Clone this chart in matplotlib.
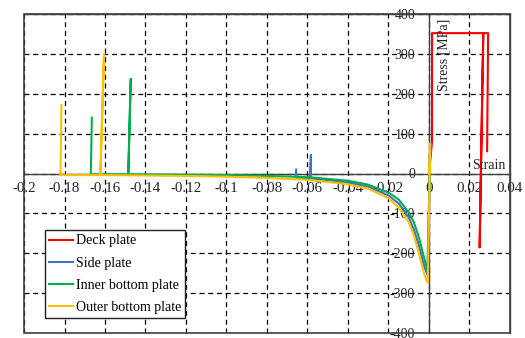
import matplotlib
matplotlib.use("Agg")
import matplotlib.pyplot as plt
from matplotlib.patches import Rectangle

plt.rcParams['font.family'] = ['Liberation Serif', 'DejaVu Serif']
plt.rcParams['axes.unicode_minus'] = False

# Deck plate
deck_strain = [0.0, 0.0015, 0.0015, 0.0268, 0.0250, 0.0268, 0.0292, 0.0287]
deck_stress = [0, 80, 352, 352, -185, 352, 352, 56]

# Side plate
side_strain = [0.0, 0.0006, -0.0007, -0.002, -0.003, -0.005, -0.0075, -0.01, -0.015, -0.02,
               -0.03, -0.04, -0.0586, -0.0583, -0.0586, -0.0658, -0.0656]
side_stress = [0, 60, -255, -238, -220, -180, -140, -110, -75, -55,
               -33, -22, -12, 46, -12, -10, 10]

# Inner bottom plate
inner_strain = [0.0, 0.0006, -0.0008, -0.002, -0.003, -0.005, -0.0075, -0.01, -0.015, -0.02,
                -0.03, -0.04, -0.06, -0.08, -0.1, -0.12, -0.1485, -0.1473, -0.1485, -0.167, -0.1665]
inner_stress = [0, 60, -242, -220, -200, -160, -122, -98, -65, -48,
                -28, -18, -9, -6, -4, -3, -2, 237, -2, -2, 140]

# Outer bottom plate
outer_strain = [0.0, 0.0006, -0.0006, -0.002, -0.003, -0.005, -0.0075, -0.01, -0.015, -0.02,
                -0.03, -0.04, -0.06, -0.08, -0.1, -0.12, -0.14, -0.1623, -0.1605, -0.1623,
                -0.182, -0.1815]
outer_stress = [0, 75, -275, -258, -240, -200, -155, -122, -85, -62,
                -38, -27, -16, -11, -8, -6, -5, -4, 297, -4,
                -4, 172]

x_ticks = [-0.2, -0.18, -0.16, -0.14, -0.12, -0.1, -0.08, -0.06, -0.04, -0.02, 0, 0.02, 0.04]
x_labels = ['-0.2', '-0.18', '-0.16', '-0.14', '-0.12', '-0.1', '-0.08', '-0.06', '-0.04', '-0.02', '0', '0.02', '0.04']
y_ticks = [-400, -300, -200, -100, 0, 100, 200, 300, 400]
y_labels = ['-400', '-300', '-200', '-100', '0', '100', '200', '300', '400']

fig = plt.figure(figsize=(5.25, 3.38), dpi=100)
ax = fig.add_axes([24/525, 1-333/338, 486/525, 319/338])

ax.plot(deck_strain, deck_stress, color='#FF0000', lw=1.5, label='Deck plate', zorder=3)
ax.plot(side_strain, side_stress, color='#4472C4', lw=1.5, label='Side plate', zorder=3)
ax.plot(inner_strain, inner_stress, color='#00B050', lw=1.5, label='Inner bottom plate', zorder=3)
ax.plot(outer_strain, outer_stress, color='#FFC000', lw=1.5, label='Outer bottom plate', zorder=3)

ax.set_xlim(-0.2, 0.04)
ax.set_ylim(-400, 400)
ax.set_xticks(x_ticks)
ax.set_xticklabels(x_labels)
ax.set_yticks(y_ticks)
ax.set_yticklabels(y_labels)

ax.grid(True, color='black', linestyle=(0, (4, 3)), linewidth=0.9, zorder=1)
ax.set_axisbelow(True)

ax.spines['left'].set_position(('data', 0))
ax.spines['bottom'].set_position(('data', 0))
for s in ['left', 'bottom']:
    ax.spines[s].set_color('#404040')
    ax.spines[s].set_linewidth(1.0)
    ax.spines[s].set_zorder(2)
for s in ['top', 'right']:
    ax.spines[s].set_color('#404040')
    ax.spines[s].set_linewidth(1.0)

ax.add_patch(Rectangle((0, 0), 1, 1, transform=ax.transAxes, fill=False,
                       edgecolor='#404040', linewidth=1.2, clip_on=False, zorder=4))

ax.tick_params(axis='x', length=0, pad=6, labelsize=10.8, colors='#222222')
ax.tick_params(axis='y', length=0, pad=10, labelsize=10, colors='#222222')

ax.text(0.004, 388, 'Stress [MPa]', rotation=90, ha='left', va='top', fontsize=10, color='#222222')
ax.text(0.0215, 5, 'Strain', ha='left', va='bottom', fontsize=10, color='#222222')

leg = ax.legend(loc='lower left', bbox_to_anchor=(0.043, 0.047), borderaxespad=0,
                fancybox=False, framealpha=1, edgecolor='#222222', fontsize=10.1,
                handlelength=1.7, handletextpad=0.2, labelspacing=0.65, borderpad=0.3)
leg.get_frame().set_linewidth(1.0)
leg.set_zorder(5)

fig.savefig('out.png', dpi=100)
